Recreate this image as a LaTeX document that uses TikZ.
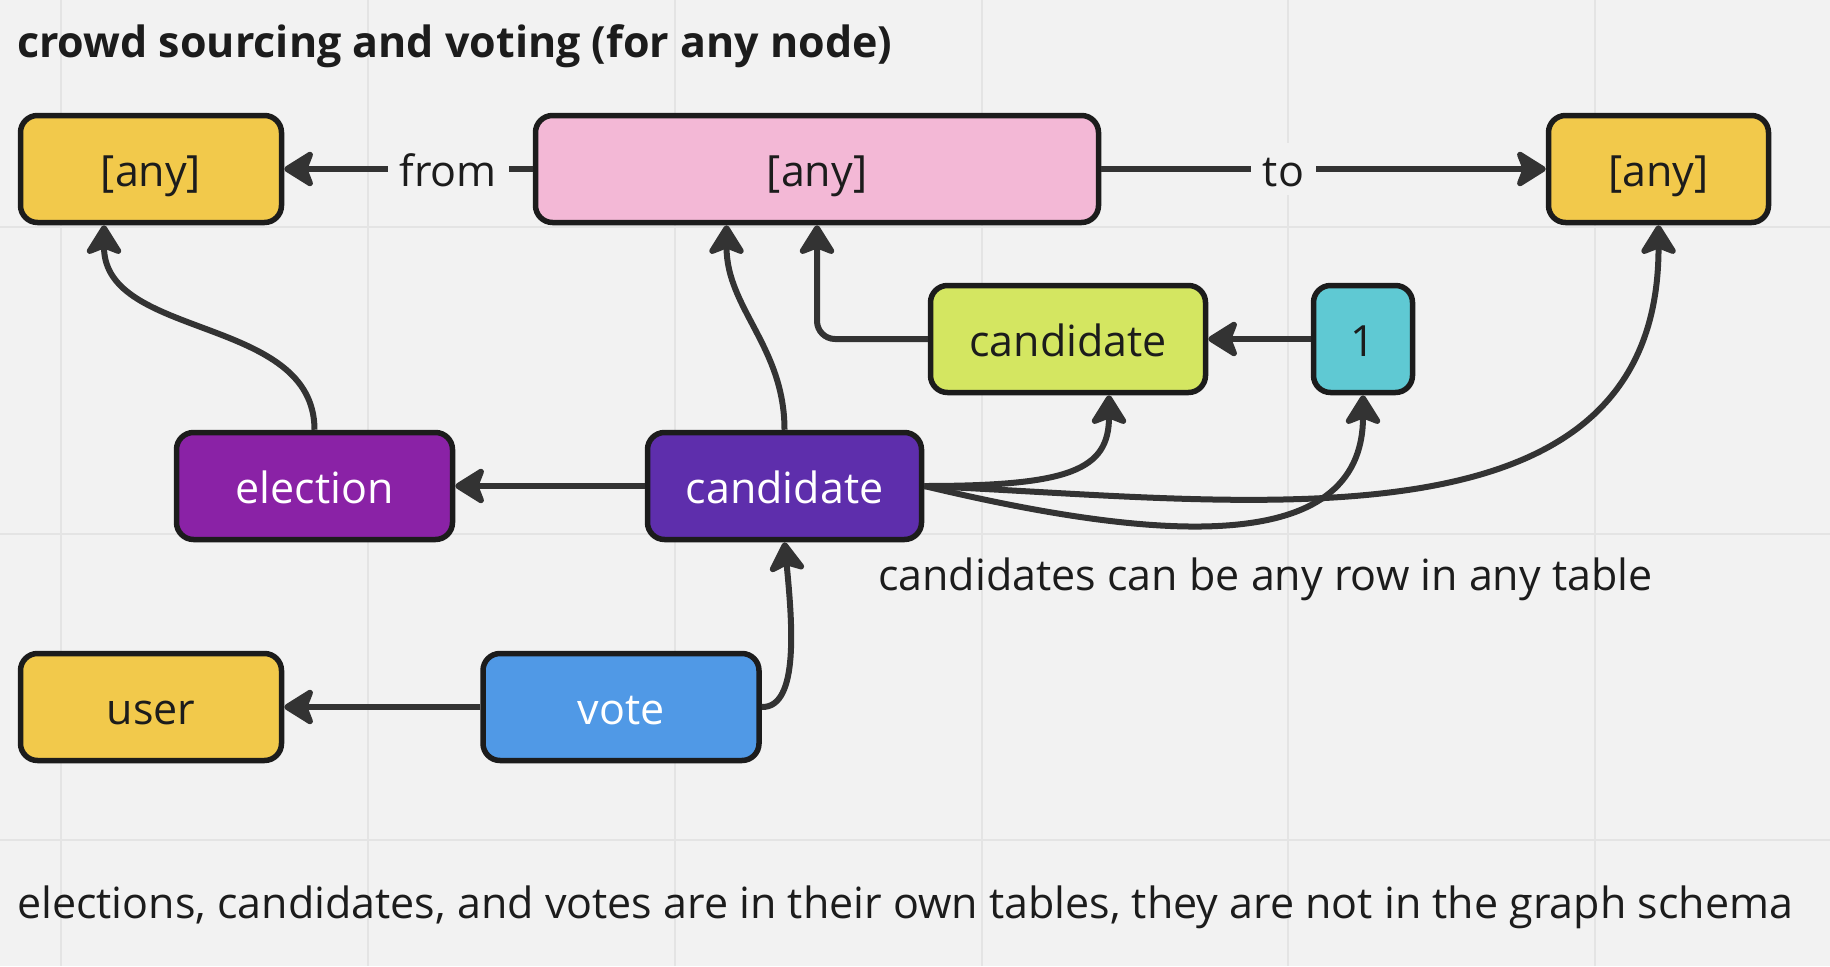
\documentclass[tikz,border=0pt]{standalone}
\usepackage{fontspec}
\setmainfont{Open Sans}
\usetikzlibrary{arrows.meta}
\definecolor{board}{HTML}{F2F2F2}
\definecolor{gridcol}{HTML}{E4E4E4}
\definecolor{frame}{HTML}{1C1C1C}
\definecolor{wire}{HTML}{333333}
\definecolor{ink}{HTML}{1C1C1C}
\definecolor{amber}{HTML}{F2C94B}
\definecolor{blush}{HTML}{F3B8D6}
\definecolor{lime}{HTML}{D4E661}
\definecolor{aqua}{HTML}{5FC9D3}
\definecolor{plum}{HTML}{8A22A6}
\definecolor{indigo}{HTML}{5E2EAC}
\definecolor{azure}{HTML}{5099E6}

\begin{document}
\begin{tikzpicture}[x=1pt,y=-1pt,
	every node/.style={font=\fontsize{43}{51}\selectfont,text=ink,text height=43pt,text depth=9pt},
	box/.style={draw=frame,line width=5.5pt,rounded corners=17pt,minimum height=107pt,inner sep=0pt},
	light/.style={box,text=white},
	link/.style={draw=wire,line width=6pt,-{Stealth[round,length=34pt,width=42pt,inset=8pt]}},
	gap/.style={fill=board,inner xsep=12pt,inner ysep=0pt},
	note/.style={anchor=base west,text height=,text depth=,inner sep=0pt},
	gridline/.style={draw=gridcol,line width=2pt}]
	\fill[board] (0,0) rectangle (1830,966);
	\useasboundingbox (0,0) rectangle (1830,966);
	\draw[gridline] (61,0) -- (61,966) (368,0) -- (368,966) (675,0) -- (675,966) (982,0) -- (982,966) (1288,0) -- (1288,966) (1595,0) -- (1595,966);
	\draw[gridline] (0,227) -- (1830,227) (0,534) -- (1830,534) (0,840) -- (1830,840);
	\node[note,font=\fontsize{43}{51}\selectfont\bfseries] (title) at (17,57) {crowd sourcing and voting (for any node)};
	\node[box,fill=amber,minimum width=261pt] (anyfrom) at (151,169) {[any]};
	\node[box,fill=blush,minimum width=563pt] (anyhub) at (817,169) {[any]};
	\node[box,fill=amber,minimum width=220pt] (anyto) at (1658.5,169) {[any]};
	\node[box,fill=lime,minimum width=275pt] (candref) at (1068,339) {candidate};
	\node[box,fill=aqua,minimum width=99pt] (one) at (1363,339) {1};
	\node[light,fill=plum,minimum width=276pt] (election) at (314.5,486) {election};
	\node[light,fill=indigo,minimum width=274pt] (candidate) at (784.5,486) {candidate};
	\node[box,fill=amber,minimum width=261pt] (user) at (151,707) {user};
	\node[light,fill=azure,minimum width=276pt] (vote) at (621,707) {vote};
	\node[note] (anyrow) at (878,590) {candidates can be any row in any table};
	\node[note] (owntables) at (17,918) {elections, candidates, and votes are in their own tables, they are not in the graph schema};
	\draw[link] (anyhub.west) -- node[gap,pos=0.34] {from} (anyfrom.east);
	\draw[link] (anyhub.east) -- node[gap,pos=0.41] {to} (anyto.west);
	\draw[link] (election.north) to[out=90,in=-90] ([xshift=-47pt]anyfrom.south);
	\draw[link] (candidate.north) to[out=90,in=-90] ([xshift=-90.5pt]anyhub.south);
	\draw[link,rounded corners=18pt] (candref.west) -| (anyhub.south);
	\draw[link] (one.west) -- (candref.east);
	\draw[link] (candidate.west) -- (election.east);
	\draw[link] (candidate.east) .. controls (1070,486) and (1109,470) .. ([xshift=41pt]candref.south);
	\draw[link] (candidate.east) .. controls (1150,540) and (1363,560) .. (one.south);
	\draw[link] (candidate.east) .. controls (1250,500) and (1659,560) .. (anyto.south);
	\draw[link] (vote.east) .. controls (800,708) and (792,620) .. (candidate.south);
	\draw[link] (vote.west) -- (user.east);
\end{tikzpicture}
\end{document}
